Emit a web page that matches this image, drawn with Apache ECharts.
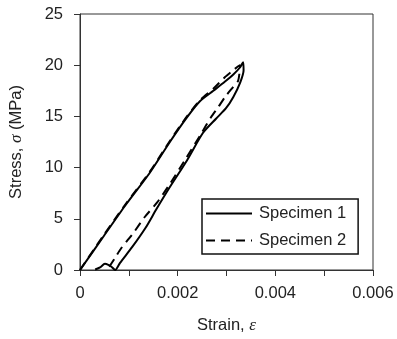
<!DOCTYPE html>
<html><head><meta charset="utf-8">
<script src="https://cdn.jsdelivr.net/npm/echarts@6/dist/echarts.min.js"></script>
<style>html,body{margin:0;padding:0;background:#fff}#c{width:397px;height:339px}</style>
</head><body><div id="c"></div>
<script>
// Specimen 1 (solid)
const s1Strain = [0, 0.00047, 0.00092, 0.00143, 0.00184, 0.00219, 0.00246, 0.00273, 0.00297, 0.00314, 0.00328, 0.00334,
  0.00335, 0.00328, 0.00314, 0.00299, 0.00279, 0.00252, 0.00219, 0.00184, 0.00156, 0.00134, 0.00107, 0.00082, 0.00072,
  0.00065, 0.00058, 0.00051, 0.00041, 0.00031];
const s1Stress = [0, 3.2, 6.25, 9.5, 12.5, 14.9, 16.5, 17.5, 18.4, 19.1, 19.8, 20.3,
  19.5, 18.3, 16.9, 15.8, 14.8, 13.4, 10.7, 8.1, 5.9, 4.1, 2.25, 0.7, 0,
  0.3, 0.5, 0.6, 0.25, 0.05];
// Specimen 2 (dashed)
const s2Strain = [0, 0.00047, 0.00092, 0.00143, 0.00184, 0.00219, 0.00246, 0.00273, 0.00297, 0.00311, 0.00324, 0.00328,
  0.00324, 0.00314, 0.00297, 0.00283, 0.00268, 0.00248, 0.00217, 0.00184, 0.00158, 0.00133, 0.00109, 0.00084, 0.00072, 0.00061, 0.00053];
const s2Stress = [0, 3.3, 6.35, 9.6, 12.6, 15.0, 16.6, 17.7, 18.85, 19.4, 19.9, 20.0,
  18.5, 17.9, 16.9, 15.9, 14.9, 13.3, 10.9, 8.4, 6.6, 5.2, 3.6, 2.1, 1.2, 0.4, 0];
const seriesNames = ['Specimen 1', 'Specimen 2'];
const xTicks = {min: 0, max: 0.006, interval: 0.002};
const yTicks = {min: 0, max: 25, interval: 5};

const zip = (a, b) => a.map((v, i) => [v, b[i]]);
const font = 'Liberation Sans, Arial, sans-serif';
const txt = '#222';
const chart = echarts.init(document.getElementById('c'), null, {renderer: 'canvas'});
chart.setOption({
  animation: false,
  grid: {left: 80, top: 14, right: 24, bottom: 69, show: true, borderColor: '#333', borderWidth: 1},
  xAxis: {
    type: 'value', min: xTicks.min, max: xTicks.max, interval: xTicks.interval,
    splitLine: {show: false},
    axisLine: {lineStyle: {color: '#333', width: 1}},
    axisTick: {inside: false, length: 6, lineStyle: {color: '#333'}},
    minorTick: {show: true, splitNumber: 2, length: 6, lineStyle: {color: '#333'}},
    axisLabel: {margin: 15, fontSize: 16.5, fontFamily: font, color: txt,
      formatter: v => v === 0 ? '0' : v.toFixed(3)},
    name: '{a|Strain, }{b|ε}', nameLocation: 'middle', nameGap: 47,
    nameTextStyle: {rich: {a: {fontSize: 16.5, fontFamily: font, color: txt},
      b: {fontSize: 17, fontFamily: 'Liberation Serif, serif', fontStyle: 'italic', color: txt}}}
  },
  yAxis: {
    type: 'value', min: yTicks.min, max: yTicks.max, interval: yTicks.interval,
    splitLine: {show: false},
    axisLine: {lineStyle: {color: '#333', width: 1}},
    axisTick: {inside: false, length: 6, lineStyle: {color: '#333'}},
    axisLabel: {margin: 17, fontSize: 16.5, fontFamily: font, color: txt},
    name: '{a|Stress, }{b|σ}{a| (MPa)}', nameLocation: 'middle', nameGap: 55, nameRotate: 90,
    nameTextStyle: {rich: {a: {fontSize: 16.5, fontFamily: font, color: txt},
      b: {fontSize: 17, fontFamily: 'Liberation Serif, serif', fontStyle: 'italic', color: txt}}}
  },
  legend: {
    orient: 'vertical', left: 202, top: 199,
    data: seriesNames,
    itemWidth: 46, itemHeight: 14, itemGap: 10,
    padding: [6, 12, 5, 3],
    borderColor: '#111', borderWidth: 1.5, borderRadius: 0,
    itemStyle: {opacity: 0},
    textStyle: {fontSize: 16.5, fontFamily: font, color: txt, padding: [0, 0, 0, 2]}
  },
  series: [
    {name: seriesNames[0], type: 'line', data: zip(s1Strain, s1Stress), showSymbol: false, symbol: 'none', smooth: 0.25,
      lineStyle: {color: '#000', width: 2}, itemStyle: {color: '#000'}},
    {name: seriesNames[1], type: 'line', data: zip(s2Strain, s2Stress), showSymbol: false, symbol: 'none', smooth: 0.25,
      lineStyle: {color: '#000', width: 2, type: [9, 6]}, itemStyle: {color: '#000'}}
  ]
});
</script></body></html>
